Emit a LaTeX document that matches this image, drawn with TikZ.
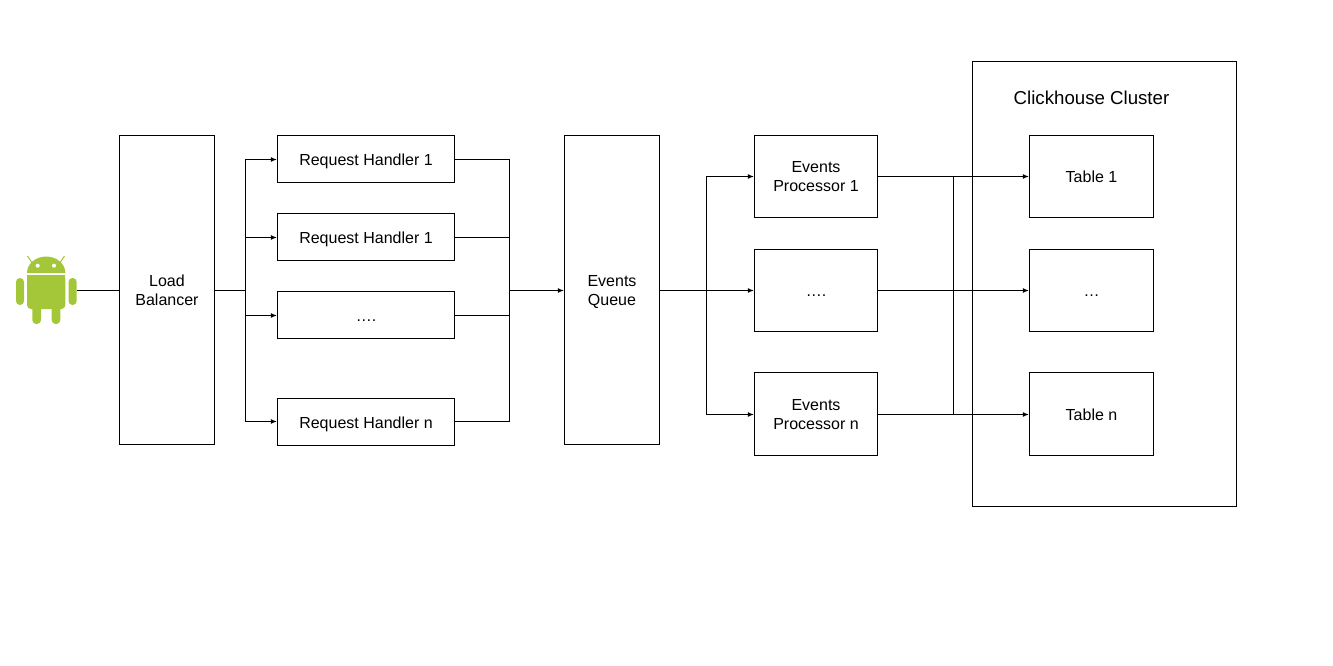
\documentclass[tikz,border=0pt]{standalone}
\usepackage{fontspec}
\setmainfont{Liberation Sans}
\usetikzlibrary{arrows.meta}
\definecolor{droid}{HTML}{A4C639}
\tikzset{
  box/.style={draw=black,line width=1.1pt,fill=white,align=center,inner sep=0pt,outer sep=0pt,font=\fontsize{16}{19}\selectfont,
    execute at begin node={\rule{0pt}{16.5pt}},execute at end node={\rule[-4pt]{0pt}{4pt}}},
  twoline/.style={text depth=0pt},
  plainline/.style={draw=black,line width=1.1pt},
  arrowline/.style={plainline,-{Latex[length=6pt,width=5pt]},shorten >=0.6pt},
  droidpart/.style={fill=droid,draw=none}
}
\begin{document}
\begin{tikzpicture}[x=1pt,y=-1pt]
\useasboundingbox (0,0) rectangle (1333,666);
% cluster frame
\node[box,minimum width=264pt,minimum height=445pt] (cluster) at (1104.5,284) {};
\node[font=\fontsize{18.67}{22}\selectfont,inner sep=0pt] (clustertitle) at (1091.5,97.5) {Clickhouse Cluster};
% android
\node[inner sep=0pt,minimum width=61pt,minimum height=68pt] (android) at (46.5,291) {};
\fill[droidpart] (27,273) arc[x radius=19.2,y radius=16.5,start angle=180,end angle=360] -- cycle;
\draw[droid,line width=1pt] (27.5,256) -- (32.5,263.5) (64.5,256) -- (59.5,263.5);
\fill[white] (37.7,265.7) circle (2);
\fill[white] (54,265.7) circle (2);
\fill[droidpart,rounded corners=4pt] (27,275) -- (65.4,275) -- (65.4,309) -- (27,309) -- cycle;
\fill[droidpart] (27,275) rectangle (65.4,300);
\fill[droidpart,rounded corners=3.9pt] (16,278) rectangle (24,305);
\fill[droidpart,rounded corners=3.9pt] (68.5,278) rectangle (76.7,305);
\fill[droidpart,rounded corners=3.9pt] (32.3,300) rectangle (41,324);
\fill[droidpart,rounded corners=3.9pt] (51.7,300) rectangle (60.3,324);
% main boxes
\node[box,twoline,minimum width=95pt,minimum height=309pt] (lb) at (167,290) {Load\\Balancer};
\node[box,minimum width=177pt,minimum height=47pt] (h1) at (366,159) {Request Handler 1};
\node[box,minimum width=177pt,minimum height=47pt] (h2) at (366,237) {Request Handler 1};
\node[box,minimum width=177pt,minimum height=47pt] (h3) at (366,315) {….};
\node[box,minimum width=177pt,minimum height=47pt] (h4) at (366,422) {Request Handler n};
\node[box,twoline,minimum width=95pt,minimum height=309pt] (queue) at (612,290) {Events\\Queue};
\node[box,twoline,minimum width=123pt,minimum height=82pt] (p1) at (816,176.5) {Events\\Processor 1};
\node[box,minimum width=123pt,minimum height=82pt] (p2) at (816,290.5) {….};
\node[box,twoline,minimum width=123pt,minimum height=83pt] (p3) at (816,414) {Events\\Processor n};
\node[box,minimum width=124pt,minimum height=82pt] (t1) at (1091.5,176.5) {Table 1};
\node[box,minimum width=124pt,minimum height=82pt] (t2) at (1091.5,290.5) {…};
\node[box,minimum width=124pt,minimum height=83pt] (t3) at (1091.5,414) {Table n};
% bus coordinates
\coordinate (busa) at (245.5,290.5);
\coordinate (busb) at (509.5,290.5);
\coordinate (busc) at (706.5,290.5);
\coordinate (busd) at (953.5,290.5);
\coordinate (p3wire) at ([yshift=-0.5pt]p3.east);
% connectors
\draw[plainline] (android.east |- busa) -- (lb.west |- busa);
\draw[plainline] (lb.east |- busa) -- (busa);
\draw[arrowline] (busa) |- ([yshift=-0.5pt]h1.west);
\draw[arrowline] (busa) |- ([yshift=-0.5pt]h2.west);
\draw[arrowline] (busa) |- ([yshift=-0.5pt]h3.west);
\draw[arrowline] (busa) |- ([yshift=0.5pt]h4.west);
\draw[plainline] ([yshift=-0.5pt]h1.east) -| (busb);
\draw[plainline] ([yshift=-0.5pt]h2.east) -| (busb);
\draw[plainline] ([yshift=-0.5pt]h3.east) -| (busb);
\draw[plainline] ([yshift=0.5pt]h4.east) -| (busb);
\draw[arrowline] (busb) -- (queue.west |- busb);
\draw[plainline] (queue.east |- busc) -- (busc);
\draw[arrowline] (busc) |- (p1.west);
\draw[arrowline] (busc) -- (p2.west);
\draw[arrowline] (busc) |- ([yshift=-0.5pt]p3.west);
\draw[arrowline] (p1.east) -- (t1.west);
\draw[arrowline] (p2.east) -- (t2.west);
\draw[arrowline] (p3wire) -- ([yshift=-0.5pt]t3.west);
\draw[plainline] (busd |- p1.east) -- (busd |- p3wire);
\end{tikzpicture}
\end{document}
